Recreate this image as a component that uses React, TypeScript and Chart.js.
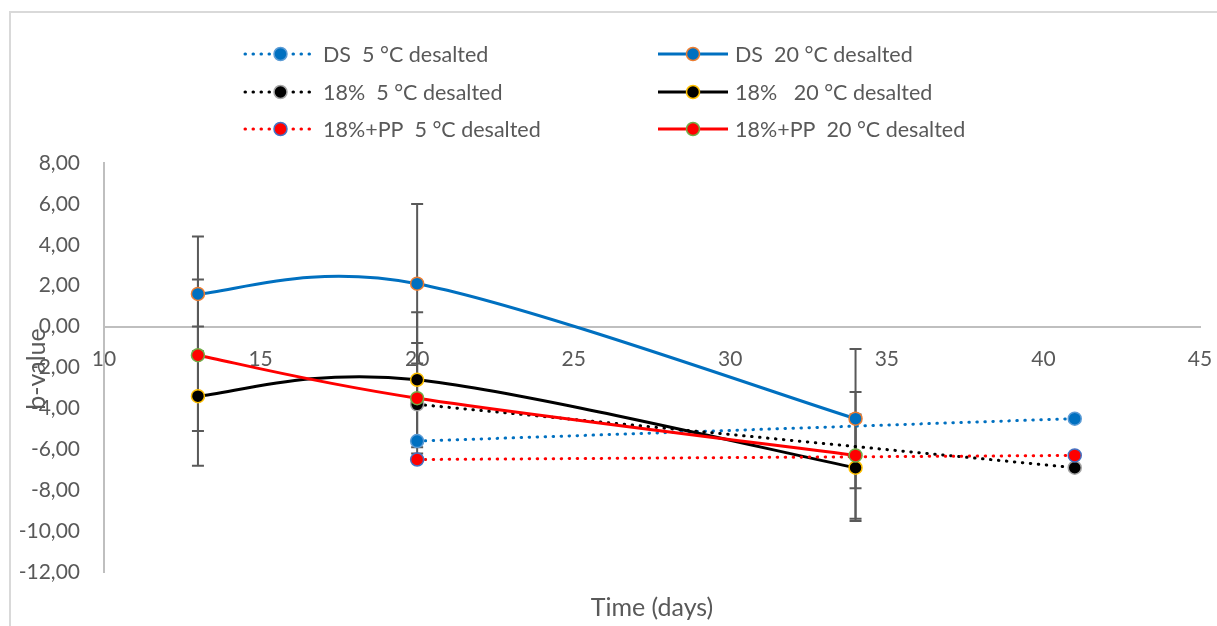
import React, { useEffect, useRef } from "react";
import { Chart, registerables } from "chart.js";

Chart.register(...registerables);

// ---- data ----
const xTicks = [10, 15, 20, 25, 30, 35, 40, 45];
const yTicks = [-12, -10, -8, -6, -4, -2, 0, 2, 4, 6, 8];

const days5 = [20, 41];
const days20 = [13, 20, 34];

const ds5 = [-5.6, -4.5];
const ds20 = [1.6, 2.1, -4.5];
const ds20Err = [2.8, 3.9, 3.4];
const s18_5 = [-3.8, -6.9];
const s18_20 = [-3.4, -2.6, -6.9];
const s18_20Err = [3.4, 3.3, 2.6];
const pp5 = [-6.5, -6.3];
const pp20 = [-1.4, -3.5, -6.3];
const pp20Err = [3.7, 2.7, 3.1];

const seriesNames = [
  "DS  5 °C desalted",
  "DS  20 °C desalted",
  "18%  5 °C desalted",
  "18%   20 °C desalted",
  "18%+PP  5 °C desalted",
  "18%+PP  20 °C desalted",
];
const xTitle = "Time (days)";
const yTitle = "b-value";

const FONT = "Lato, 'Open Sans', sans-serif";
const TXT = "#595959";
const DOT = [0.5, 7.5];

type S = {
  name: string;
  xs: number[];
  ys: number[];
  err?: number[];
  line: string;
  fill: string;
  ring: string;
  dotted: boolean;
};

const series: S[] = [
  { name: seriesNames[0], xs: days5, ys: ds5, line: "#0070C0", fill: "#0070C0", ring: "#5B9BD5", dotted: true },
  { name: seriesNames[1], xs: days20, ys: ds20, err: ds20Err, line: "#0070C0", fill: "#0070C0", ring: "#ED7D31", dotted: false },
  { name: seriesNames[2], xs: days5, ys: s18_5, line: "#000000", fill: "#000000", ring: "#A5A5A5", dotted: true },
  { name: seriesNames[3], xs: days20, ys: s18_20, err: s18_20Err, line: "#000000", fill: "#000000", ring: "#FFC000", dotted: false },
  { name: seriesNames[4], xs: days5, ys: pp5, line: "#FF0000", fill: "#FF0000", ring: "#4472C4", dotted: true },
  { name: seriesNames[5], xs: days20, ys: pp20, err: pp20Err, line: "#FF0000", fill: "#FF0000", ring: "#70AD47", dotted: false },
];

const fmt = (v: number) => v.toFixed(2).replace(".", ",");

const framePlugin = {
  id: "frame",
  beforeDraw(chart: any) {
    const ctx = chart.ctx;
    ctx.save();
    ctx.fillStyle = "#ffffff";
    ctx.fillRect(0, 0, chart.width, chart.height);
    ctx.strokeStyle = "#d9d9d9";
    ctx.lineWidth = 2;
    ctx.beginPath();
    ctx.moveTo(10, chart.height);
    ctx.lineTo(10, 12);
    ctx.lineTo(chart.width, 12);
    ctx.stroke();
    ctx.restore();
  },
};

// Excel-like (Catmull-Rom) smoothing of the solid series
const smoothPlugin = {
  id: "excelSmooth",
  beforeDatasetsDraw(chart: any) {
    chart.data.datasets.forEach((ds: any, i: number) => {
      if (!ds.tension) return;
      const meta = chart.getDatasetMeta(i);
      const line = meta.dataset;
      if (!line) return;
      if (line.updateControlPoints) line.updateControlPoints(chart.chartArea, "x");
      const pts = meta.data;
      const n = pts.length;
      for (let k = 0; k < n; k++) {
        const p = pts[k];
        const prev = pts[Math.max(0, k - 1)];
        const next = pts[Math.min(n - 1, k + 1)];
        const dx = (next.x - prev.x) / 6;
        const dy = (next.y - prev.y) / 6;
        p.cp1x = p.x - dx;
        p.cp1y = p.y - dy;
        p.cp2x = p.x + dx;
        p.cp2y = p.y + dy;
      }
      line._pointsUpdated = true;
      line._path = undefined;
    });
  },
};

const errorBarPlugin = {
  id: "errorBars",
  beforeDatasetsDraw(chart: any) {
    const ctx = chart.ctx;
    const xs = chart.scales.x;
    const ys = chart.scales.y;
    ctx.save();
    ctx.strokeStyle = "#595959";
    ctx.lineWidth = 2;
    series.forEach((s) => {
      if (!s.err) return;
      s.xs.forEach((d, i) => {
        const px = xs.getPixelForValue(d);
        const top = ys.getPixelForValue(s.ys[i] + s.err![i]);
        const bot = ys.getPixelForValue(s.ys[i] - s.err![i]);
        ctx.beginPath();
        ctx.moveTo(px, top);
        ctx.lineTo(px, bot);
        ctx.moveTo(px - 6, top);
        ctx.lineTo(px + 6, top);
        ctx.moveTo(px - 6, bot);
        ctx.lineTo(px + 6, bot);
        ctx.stroke();
      });
    });
    ctx.restore();
  },
};

const decorPlugin = {
  id: "decor",
  afterDraw(chart: any) {
    const ctx = chart.ctx;
    ctx.save();
    // legend
    const rows = [54, 92, 129];
    const cols = [
      { x1: 245, x2: 316, tx: 323 },
      { x1: 658, x2: 728, tx: 735 },
    ];
    series.forEach((s, i) => {
      const c = cols[i % 2];
      const y = rows[Math.floor(i / 2)];
      ctx.strokeStyle = s.line;
      ctx.lineWidth = 3;
      ctx.lineCap = s.dotted ? "round" : "butt";
      ctx.setLineDash(s.dotted ? DOT : []);
      ctx.beginPath();
      ctx.moveTo(c.x1, y);
      ctx.lineTo(c.x2, y);
      ctx.stroke();
      ctx.setLineDash([]);
      ctx.beginPath();
      ctx.arc((c.x1 + c.x2) / 2, y, 6.5, 0, Math.PI * 2);
      ctx.fillStyle = s.fill;
      ctx.fill();
      ctx.lineWidth = 1.5;
      ctx.strokeStyle = s.ring;
      ctx.stroke();
      ctx.fillStyle = TXT;
      ctx.font = `21.5px ${FONT}`;
      ctx.textAlign = "left";
      ctx.textBaseline = "middle";
      ctx.fillText(s.name, c.tx, y + 1);
    });
    // axis titles
    ctx.fillStyle = TXT;
    ctx.font = `25px ${FONT}`;
    ctx.textAlign = "center";
    ctx.textBaseline = "middle";
    ctx.fillText(xTitle, 652, 608);
    ctx.translate(37, 369);
    ctx.rotate(-Math.PI / 2);
    ctx.fillText(yTitle, 0, 0);
    ctx.restore();
  },
};

export default function App() {
  const ref = useRef<HTMLCanvasElement>(null);
  useEffect(() => {
    if (!ref.current) return;
    const datasets = series.map((s, i) => ({
      label: s.name,
      data: s.xs.map((d, j) => ({ x: d, y: s.ys[j] })),
      borderColor: s.line,
      backgroundColor: s.fill,
      borderWidth: 3,
      borderDash: s.dotted ? DOT : [],
      borderCapStyle: s.dotted ? "round" : "butt",
      tension: s.dotted ? 0 : 0.5,
      pointRadius: 6.5,
      pointBorderWidth: 1.5,
      pointBackgroundColor: s.fill,
      pointBorderColor: s.ring,
      order: series.length - i,
      fill: false,
    }));
    const chart = new Chart(ref.current, {
      type: "line",
      data: { datasets } as any,
      plugins: [framePlugin, smoothPlugin, errorBarPlugin, decorPlugin],
      options: {
        animation: false,
        responsive: true,
        maintainAspectRatio: false,
        layout: { padding: { top: 163, bottom: 54, left: 0, right: 17 } },
        plugins: { legend: { display: false }, tooltip: { enabled: false } },
        scales: {
          x: {
            type: "linear",
            position: { y: 0 } as any,
            min: xTicks[0],
            max: xTicks[xTicks.length - 1],
            afterBuildTicks: (sc: any) => {
              sc.ticks = xTicks.map((v) => ({ value: v }));
            },
            afterFit: (sc: any) => {
              sc.paddingLeft = 0;
              sc.paddingRight = 0;
            },
            grid: { display: false, drawTicks: false },
            border: { display: true, color: "#bfbfbf", width: 2 },
            ticks: {
              color: TXT,
              font: { family: FONT, size: 21 },
              padding: 20,
              maxRotation: 0,
              autoSkip: false,
            },
          },
          y: {
            type: "linear",
            min: yTicks[0],
            max: yTicks[yTicks.length - 1],
            afterBuildTicks: (sc: any) => {
              sc.ticks = yTicks.map((v) => ({ value: v }));
            },
            afterFit: (sc: any) => {
              sc.width = 104;
              sc.paddingTop = 0;
              sc.paddingBottom = 0;
            },
            grid: { display: false, drawTicks: false },
            border: { display: true, color: "#bfbfbf", width: 2 },
            ticks: {
              color: TXT,
              font: { family: FONT, size: 21 },
              padding: 24,
              autoSkip: false,
              callback: (v: any) => fmt(Number(v)),
            },
          },
        },
      },
    });
    return () => chart.destroy();
  }, []);
  return (
    <div style={{ position: "fixed", left: 0, top: 0, width: 1217, height: 626 }}>
      <canvas ref={ref} />
    </div>
  );
}
